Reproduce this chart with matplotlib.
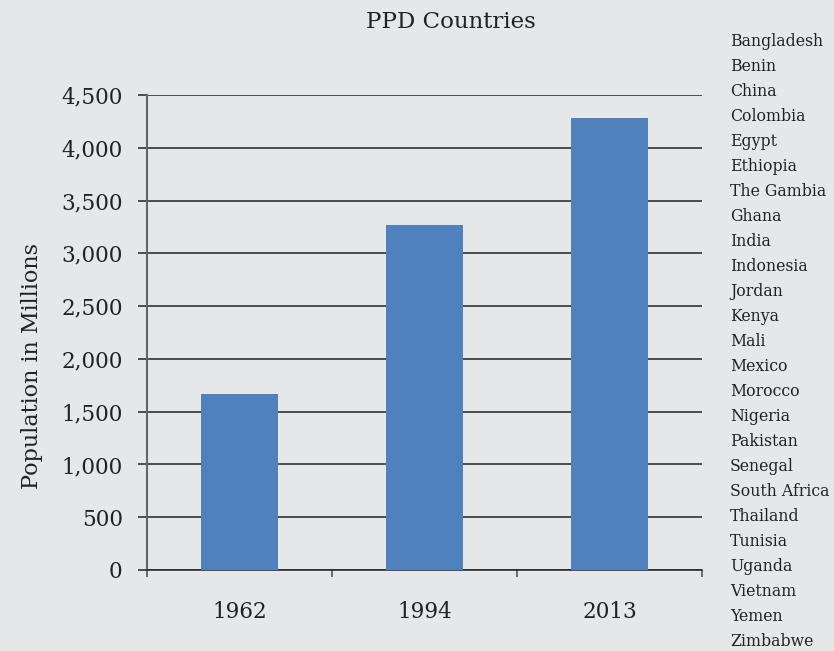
import numpy as np
import matplotlib.pyplot as plt

years = ['1962', '1994', '2013']
population = [1670, 3270, 4280]
countries = ['Bangladesh', 'Benin', 'China', 'Colombia', 'Egypt', 'Ethiopia',
             'The Gambia', 'Ghana', 'India', 'Indonesia', 'Jordan', 'Kenya',
             'Mali', 'Mexico', 'Morocco', 'Nigeria', 'Pakistan', 'Senegal',
             'South Africa', 'Thailand', 'Tunisia', 'Uganda', 'Vietnam',
             'Yemen', 'Zimbabwe']

bg = '#e6e7e9'
plt.rcParams['font.family'] = ['DejaVu Serif']

fig = plt.figure(figsize=(8.34, 6.51), dpi=100, facecolor=bg)
ax = fig.add_axes([147 / 834, 1 - 570 / 651, (702 - 147) / 834, (570 - 95) / 651])
ax.set_facecolor(bg)

x = np.arange(len(years))
ax.bar(x, population, width=0.417, color='#4f81bd', zorder=3)
ax.set_xlim(-0.5, 2.5)
ax.set_ylim(0, 4500)

yt = np.arange(0, 4501, 500)
ax.set_yticks(yt)
ax.set_yticklabels([f'{v:,}' for v in yt], fontsize=15.5, color='#222222')
ax.yaxis.grid(True, color='#222222', linewidth=1.1, zorder=0)
ax.tick_params(axis='y', length=6.5, width=1.1, color='#222222', pad=11)

ax.set_xticks([-0.5, 0.5, 1.5, 2.5])
ax.set_xticklabels([])
ax.set_xticks(x, minor=True)
ax.set_xticklabels(years, minor=True, fontsize=15.5, color='#222222')
ax.tick_params(axis='x', which='major', length=5, width=1.2, color='#555555', direction='out')
ax.tick_params(axis='x', which='minor', length=0, pad=22)

for s in ['top', 'right']:
    ax.spines[s].set_visible(False)
ax.spines['left'].set_color('#666666')
ax.spines['left'].set_linewidth(1.5)
ax.spines['bottom'].set_color('#222222')
ax.spines['bottom'].set_linewidth(1.1)

fig.text(32 / 834, 1 - 366 / 651, 'Population in Millions', fontsize=16, rotation=90,
         ha='center', va='center', color='#222222')
fig.text(451 / 834, 1 - 22 / 651, 'PPD Countries', fontsize=16.5, ha='center', va='center', color='#222222')

for i, c in enumerate(countries):
    fig.text(730 / 834, 1 - (42 + i * 24.96) / 651, c, fontsize=11.3, ha='left', va='center', color='#222222')

fig.savefig('out.png', dpi=100, facecolor=bg)
